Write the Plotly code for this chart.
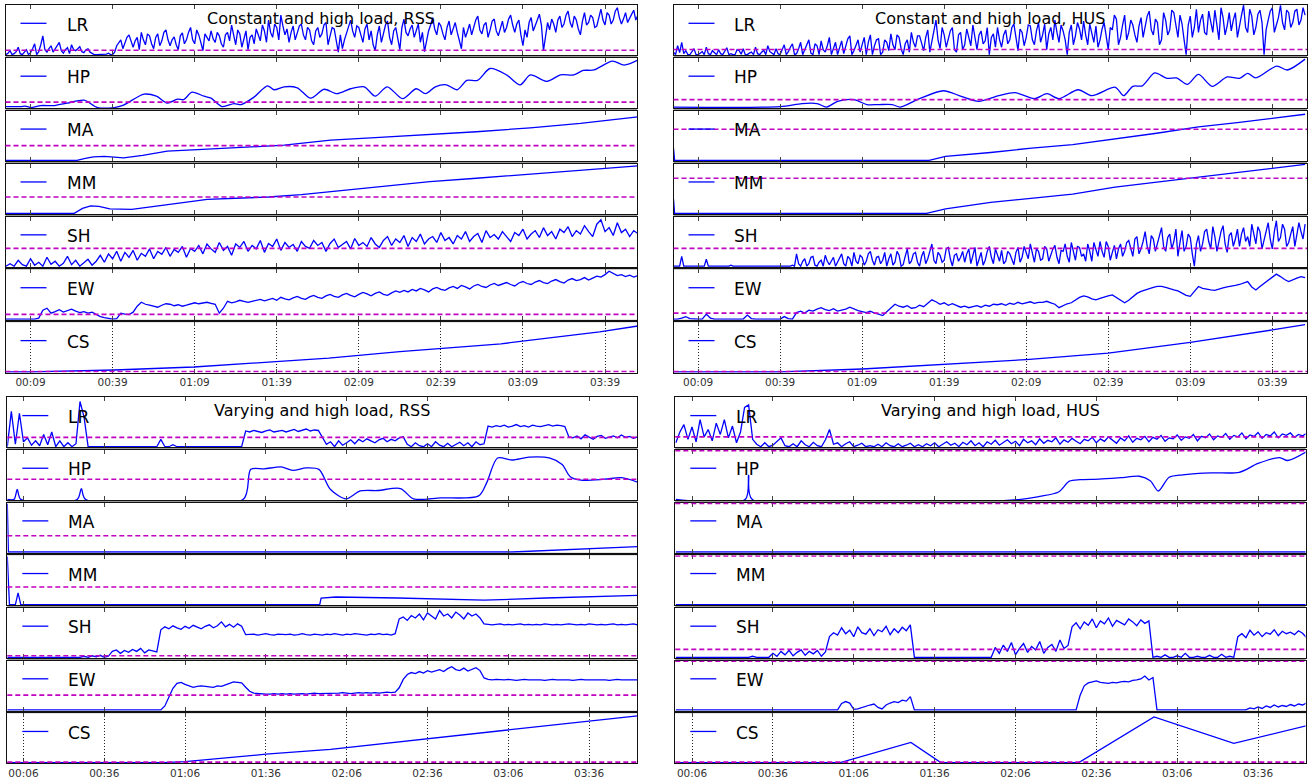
import numpy as np
import plotly.graph_objects as go

W, H = 1311, 781

ROWS = ["LR", "HP", "MA", "MM", "SH", "EW", "CS"]
TITLES = ["Constant and high load, RSS", "Constant and high load, HUS",
          "Varying and high load, RSS", "Varying and high load, HUS"]
TOP_TICKS = [9, 39, 69, 99, 129, 159, 189, 219]
TOP_TICK_LABELS = ["00:09", "00:39", "01:09", "01:39", "02:09", "02:39", "03:09", "03:39"]
BOT_TICKS = [6, 36, 66, 96, 126, 156, 186, 216]
BOT_TICK_LABELS = ["00:06", "00:36", "01:06", "01:36", "02:06", "02:36", "03:06", "03:36"]

# values are in % of each strip's height
STEP = 1.5        # minutes between samples of the dense series
STEP_FINE = 0.75  # minutes between samples of the very dense series

# ---------------- top-left: constant load, RSS ----------------
TL_LR = [0, 3, 8, 0, 2, 6, 15, 2, 0, 5, 10, 0, 4, 12, 22, 0, 6, 20, 38, 10,
         5, 12, 18, 5, 12, 20, 25, 8, 3, 10, 14, 2, 20, 10, 8, 12, 16, 6, 4, 10,
         12, 5, 2, 0, 0, 0, 1, 0, 0, 1, 3, 0, 0, 5, 18, 25, 30, 12, 22, 35,
         40, 25, 15, 28, 35, 10, 45, 30, 20, 42, 38, 22, 12, 35, 42, 18, 28, 45, 50, 30,
         18, 30, 36, 20, 10, 38, 44, 22, 30, 45, 55, 30, 22, 50, 40, 25, 8, 42, 35, 28,
         48, 32, 25, 45, 38, 22, 15, 40, 45, 28, 60, 38, 20, 50, 42, 15, 32, 48, 10, 35,
         40, 22, 52, 38, 28, 60, 48, 25, 70, 45, 35, 62, 55, 30, 80, 58, 40, 52, 25, 45,
         58, 30, 45, 58, 62, 40, 30, 55, 50, 28, 20, 48, 55, 35, 42, 60, 65, 20, 38, 55,
         52, 30, 5, 40, 12, 30, 45, 55, 70, 48, 35, 58, 55, 40, 25, 52, 62, 30, 48, 20,
         8, 40, 58, 25, 42, 60, 68, 35, 20, 48, 55, 30, 10, 55, 72, 45, 38, 52, 60, 35,
         50, 62, 25, 45, 6, 30, 48, 60, 75, 52, 40, 65, 58, 42, 30, 55, 68, 40, 52, 65,
         45, 30, 12, 55, 35, 48, 62, 40, 55, 70, 78, 50, 42, 60, 65, 35, 50, 68, 72, 48,
         38, 55, 68, 45, 55, 72, 80, 60, 45, 62, 70, 40, 18, 50, 35, 65, 75, 48, 58, 70,
         82, 60, 8, 42, 65, 50, 72, 62, 45, 70, 78, 55, 62, 80, 88, 65, 55, 78, 70, 52,
         40, 68, 85, 60, 65, 80, 75, 55, 58, 75, 92, 70, 60, 85, 80, 62, 70, 88, 95, 75,
         62, 72, 85, 65, 75, 82, 90, 70, 80]
TL_HP_T = [0, 5.5, 7, 9, 12.8, 17.7, 22.5, 28.6, 33.5, 39.6,
           43, 50.5, 55, 59, 62.7, 65, 68, 72.4, 75, 79,
           83.4, 86, 90.7, 95.6, 98, 101.7, 106.5, 111.4, 116.3, 121,
           126, 131, 135, 139.4, 145, 150, 153.4, 157, 161, 165,
           168.5, 172.4, 177, 183, 188, 191.7, 197.8, 202.7, 207.6, 211,
           215, 221.7, 226, 231]
TL_HP = [2, 2, 3, 0, 4, 4, 9, 15, 0, 0,
         5, 27, 23, 9, 17, 16, 31, 23, 19, 2,
         8, 6, 21, 44, 36, 42, 40, 19, 37, 28,
         38, 42, 23, 42, 18, 38, 28, 42, 46, 36,
         55, 55, 79, 66, 46, 66, 53, 66, 66, 75,
         76, 94, 86, 96]
TL_MA_T = [0, 26, 29, 32, 36, 39, 43, 50, 59, 70, 83.4, 92, 101.7, 110, 118.7, 135, 155, 172, 191.7, 210, 231]
TL_MA = [0, 0, 4, 7, 8, 7, 5, 10, 19, 22, 25, 28, 31, 36, 41, 46, 52, 58, 66, 75, 88]
TL_MM_T = [0, 25, 28, 31, 34, 38, 46, 55, 64, 73.6, 85, 96, 108, 118.7, 135, 155, 172, 191.7, 210, 231]
TL_MM = [0, 0, 10, 15, 14, 9, 8, 14, 21, 28, 30, 33, 38, 44, 54, 64, 71, 79, 87, 96]
TL_SH = [0, 5, 0, 12, 3, 0, 15, 2, 8, 0,
         18, 4, 10, 0, 6, 20, 3, 12, 0, 8,
         14, 2, 10, 22, 8, 25, 15, 30, 10, 28,
         18, 32, 12, 26, 20, 35, 15, 30, 24, 38,
         20, 34, 28, 40, 18, 36, 30, 42, 25, 45,
         35, 28, 48, 32, 40, 22, 45, 38, 50, 30,
         42, 35, 52, 28, 46, 40, 55, 32, 48, 38,
         44, 30, 50, 40, 36, 52, 42, 48, 30, 46,
         55, 38, 45, 50, 35, 56, 42, 48, 40, 58,
         45, 38, 52, 60, 42, 55, 48, 62, 40, 58,
         50, 65, 45, 55, 60, 48, 68, 52, 58, 45,
         62, 55, 70, 50, 60, 66, 48, 72, 58, 64,
         55, 70, 60, 50, 68, 62, 75, 55, 65, 72,
         58, 78, 62, 70, 55, 75, 68, 80, 60, 72,
         65, 82, 70, 60, 85, 94, 70, 78, 62, 88,
         68, 75, 60, 72, 66]
TL_EW = [0, 0, 0, 0, 0, 0, 0, 0, 2, 18,
         22, 12, 15, 19, 14, 17, 20, 16, 13, 15,
         12, 14, 9, 5, 3, 2, 0, 1, 12, 10,
         9, 14, 26, 34, 30, 28, 26, 24, 28, 31,
         30, 27, 29, 26, 28, 30, 33, 31, 33, 34,
         32, 30, 12, 22, 36, 33, 35, 38, 36, 34,
         36, 38, 40, 37, 40, 42, 38, 44, 41, 39,
         43, 46, 42, 40, 45, 48, 44, 42, 47, 50,
         46, 44, 49, 52, 48, 45, 50, 54, 51, 47,
         52, 55, 50, 48, 53, 57, 54, 58, 55, 60,
         57, 62, 59, 55, 61, 64, 60, 58, 63, 66,
         62, 68, 65, 61, 67, 70, 66, 64, 69, 72,
         68, 71, 74, 70, 67, 73, 76, 72, 70, 75,
         78, 74, 72, 77, 80, 76, 73, 79, 82, 78,
         80, 84, 79, 83, 87, 85, 90, 97, 92, 88,
         90, 86, 89, 85, 88]
TL_CS_T = [0, 9, 39.6, 68.7, 98.7, 118, 144, 181, 217, 231]
TL_CS = [0, 0, 4, 10, 21, 28, 41, 57, 81, 93]

# ---------------- top-right: constant load, HUS ----------------
TR_LR = [5, 0, 18, 4, 25, 2, 8, 0, 0, 6, 12, 0, 0, 3, 6, 0, 15, 2, 0, 8,
         3, 0, 10, 2, 0, 6, 14, 0, 2, 0, 0, 10, 8, 1, 12, 0, 0, 3, 5, 0,
         15, 2, 0, 5, 9, 0, 18, 6, 3, 0, 12, 2, 0, 10, 20, 0, 6, 15, 22, 0,
         2, 12, 25, 0, 10, 20, 30, 3, 0, 22, 18, 0, 28, 10, 5, 18, 35, 0, 12, 25,
         0, 15, 28, 2, 15, 32, 38, 0, 8, 20, 30, 5, 20, 35, 0, 25, 40, 0, 18, 30,
         32, 0, 5, 30, 25, 8, 42, 20, 10, 40, 35, 12, 0, 22, 30, 5, 45, 25, 15, 38,
         38, 20, 8, 35, 50, 5, 25, 45, 70, 30, 12, 55, 40, 15, 30, 48, 55, 10, 5, 40,
         45, 10, 20, 52, 35, 18, 60, 30, 10, 40, 48, 22, 28, 55, 0, 35, 42, 15, 55, 30,
         15, 40, 50, 22, 30, 55, 62, 35, 8, 52, 45, 18, 35, 60, 58, 30, 20, 48, 65, 25,
         40, 62, 10, 42, 55, 30, 70, 45, 25, 60, 48, 30, 0, 45, 60, 20, 38, 65, 52, 30,
         68, 40, 20, 62, 45, 25, 58, 15, 30, 52, 65, 38, 10, 55, 50, 80, 72, 20, 35, 60,
         80, 30, 45, 70, 60, 40, 25, 58, 75, 35, 55, 78, 88, 50, 40, 72, 65, 20, 30, 85,
         70, 40, 50, 90, 85, 55, 35, 80, 62, 30, 0, 60, 78, 35, 55, 92, 45, 70, 82, 45,
         40, 88, 68, 45, 90, 60, 30, 95, 75, 40, 58, 85, 48, 70, 85, 35, 62, 80, 100, 55,
         45, 92, 78, 40, 55, 82, 90, 65, 0, 50, 70, 88, 95, 45, 60, 75, 100, 65, 50, 90,
         85, 55, 65, 88, 92, 60, 70, 95, 80]
TR_HP_T = [0, 39, 47, 52.5, 56, 60, 66, 70.7, 75, 80,
           83, 90, 98.7, 105.5, 111.6, 119, 125, 132, 136.6, 141,
           148, 153, 161.6, 164.6, 168, 171.5, 176, 180.5, 184, 188,
           192, 197, 202.5, 207, 210, 213, 220.6, 224.5, 231]
TR_HP = [1, 2, 8, 8, 1, 12.5, 16, 6, 6, 6,
         1, 18, 34, 22, 12.5, 24, 30, 18, 28, 18,
         36, 24, 41, 24, 43, 44, 70, 59, 60, 47,
         67, 43, 62, 59, 69, 60, 84, 76, 98]
TR_MA_T = [0, 0.4, 93.5, 99.5, 116, 131, 146, 161.5, 176.7, 192, 207, 231]
TR_MA = [25, 0, 0, 8, 16, 25, 32, 43.5, 55, 68, 77, 93.5]
TR_MM_T = [0, 0.4, 92.6, 99.5, 116, 131, 146, 161.5, 176.7, 192, 207, 231]
TR_MM = [29, 0, 0, 9, 22, 31, 39, 53, 63, 74, 84, 99]
TR_SH = [0, 0, 0, 0, 20, 0, 0, 0, 0, 0, 0, 0, 0, 0, 0, 0, 14, 0, 0, 0,
         0, 0, 0, 0, 0, 0, 0, 0, 2, 0, 0, 0, 0, 0, 0, 0, 0, 0, 0, 0,
         0, 0, 0, 0, 0, 0, 0, 0, 0, 0, 0, 0, 0, 0, 0, 0, 0, 0, 2, 0,
         25, 5, 0, 10, 15, 0, 5, 18, 20, 2, 0, 8, 12, 0, 22, 10, 3, 12, 18, 0,
         8, 15, 25, 5, 0, 20, 15, 0, 28, 10, 5, 22, 18, 2, 10, 25, 30, 12, 2, 18,
         20, 5, 12, 28, 0, 15, 25, 2, 8, 30, 22, 0, 3, 20, 35, 5, 10, 25, 28, 8,
         0, 20, 30, 5, 15, 30, 45, 12, 5, 28, 22, 8, 12, 35, 38, 15, 0, 22, 25, 10,
         18, 30, 8, 25, 35, 5, 20, 38, 0, 15, 28, 2, 12, 30, 40, 18, 5, 35, 22, 10,
         32, 5, 10, 30, 25, 12, 3, 28, 38, 8, 18, 40, 28, 15, 45, 25, 8, 35, 30, 12,
         15, 40, 35, 10, 22, 35, 42, 18, 5, 32, 30, 45, 20, 8, 48, 30, 12, 40, 38, 20,
         25, 10, 45, 30, 10, 48, 35, 20, 50, 30, 18, 50, 40, 12, 28, 42, 15, 35, 45, 20,
         30, 48, 52, 35, 20, 55, 60, 25, 35, 50, 70, 40, 25, 62, 55, 30, 45, 65, 78, 40,
         30, 58, 65, 35, 50, 75, 20, 48, 72, 30, 40, 65, 58, 25, 0, 45, 62, 30, 45, 70,
         75, 50, 35, 80, 60, 30, 50, 70, 82, 45, 28, 62, 68, 40, 55, 75, 40, 65, 78, 50,
         60, 40, 85, 62, 45, 80, 70, 35, 52, 75, 88, 55, 35, 70, 92, 50, 58, 85, 75, 40,
         48, 65, 80, 40, 62, 88, 70, 55, 85]
TR_EW = [0, 0, 2, 5, 1, 0, 0, 0, 10, 2,
         0, 0, 0, 0, 0, 0, 0, 0, 8, 1,
         0, 0, 0, 0, 0, 0, 0, 5, 1, 0,
         13, 16, 12, 18, 16, 20, 23, 19, 17, 21,
         16, 18, 20, 24, 20, 17, 15, 13, 16, 12,
         10, 7, 15, 22, 30, 26, 24, 27, 22, 23,
         28, 25, 33, 39, 35, 30, 33, 28, 31, 27,
         24, 26, 23, 25, 27, 24, 28, 26, 30, 29,
         31, 28, 32, 30, 34, 31, 33, 35, 32, 34,
         34, 36, 33, 30, 23, 27, 31, 33, 38, 44,
         47, 45, 41, 39, 42, 45, 47, 49, 44, 38,
         33, 38, 45, 52, 56, 59, 62, 64, 66, 66,
         64, 61, 59, 57, 52, 48, 46, 55, 66, 62,
         60, 59, 58, 61, 63, 65, 66, 68, 70, 73,
         76, 65, 59, 66, 72, 78, 85, 91, 86, 80,
         76, 80, 83, 86, 84]
TR_CS_T = [0, 39, 69, 99, 129, 159, 169, 189, 219, 231]
TR_CS = [0, 0, 6, 15, 25, 38, 45, 60, 85, 96]

# ---------------- bottom-left: varying load, RSS ----------------
BL_LR = [0, 72, 5, 68, 10, 18, 3, 12, 2, 25,
         4, 30, 0, 12, 0, 8, 0, 6, 92, 60,
         0, 0, 0, 0, 0, 0, 0, 0, 0, 0,
         0, 0, 0, 0, 0, 0, 0, 0, 15, 0,
         0, 4, 0, 0, 0, 0, 0, 0, 0, 0,
         0, 0, 0, 0, 0, 0, 0, 0, 0, 32,
         30, 33, 31, 29, 32, 34, 30, 31, 33, 30,
         32, 35, 31, 33, 36, 32, 34, 33, 20, 5,
         10, 0, 12, 3, 8, 14, 6, 15, 10, 16,
         12, 8, 14, 17, 10, 15, 12, 18, 20, 5,
         0, 8, 2, 0, 6, 0, 10, 3, 0, 7,
         0, 5, 9, 2, 8, 0, 10, 4, 6, 42,
         40, 43, 41, 44, 40, 42, 45, 41, 43, 40,
         44, 42, 41, 43, 45, 42, 44, 43, 41, 20,
         18, 22, 16, 24, 19, 15, 21, 23, 17, 20,
         22, 18, 24, 19, 21, 17, 20]
BL_HP_T = [0, 2.5, 3.7, 5, 26, 27.5, 29, 87.6, 90.4, 95.4,
           101.6, 106, 111, 115.7, 120, 125.8, 131, 137.5, 146, 150.8,
           161, 175, 178, 182, 187.4, 193.7, 201.5, 206, 209, 213,
           221.8, 228, 234]
BL_HP = [0, 0, 20, 0, 0, 22, 0, 0, 61, 62,
         66, 59, 64, 61, 20, 1, 17, 18, 22, 1,
         3, 7, 34, 84, 80, 86, 84, 71, 46, 39,
         41, 44, 35]
BL_MA_T = [0, 0.4, 187.4, 210, 234]
BL_MA = [98, 0, 0, 6, 11]
BL_MM_T = [0, 0.8, 3, 4, 5, 116, 116.5, 122, 145, 177, 200, 234]
BL_MM = [98, 0, 0, 24, 0, 0, 13.5, 15.5, 13.5, 9, 13.5, 19]
BL_SH = [0, 0, 0, 0, 0, 0, 0, 0, 0, 0,
         0, 0, 0, 0, 0, 0, 0, 0, 0, 2,
         0, 3, 1, 4, 0, 2, 12, 15, 8, 14,
         10, 16, 12, 18, 9, 15, 13, 11, 56, 62,
         58, 64, 60, 57, 63, 59, 65, 61, 58, 63,
         66, 60, 64, 72, 62, 67, 61, 68, 63, 46,
         46, 47, 45, 46, 48, 46, 45, 47, 46, 46,
         47, 45, 46, 48, 46, 45, 47, 46, 45, 47,
         46, 48, 46, 45, 47, 46, 48, 47, 46, 45,
         47, 46, 48, 46, 47, 45, 48, 78, 82, 75,
         85, 80, 88, 76, 90, 83, 78, 95, 84, 88,
         80, 92, 86, 78, 90, 84, 88, 80, 68, 67,
         66, 67, 68, 66, 67, 66, 67, 68, 66, 67,
         66, 67, 66, 68, 67, 66, 67, 66, 67, 68,
         67, 66, 67, 66, 68, 67, 66, 67, 66, 67,
         68, 66, 67, 66, 67, 68, 66]
BL_EW = [0, 0, 0, 0, 0, 0, 0, 0, 0, 0,
         0, 0, 0, 0, 0, 0, 0, 0, 0, 0,
         0, 0, 0, 0, 0, 0, 0, 0, 0, 0,
         0, 0, 0, 0, 0, 0, 0, 0, 0, 8,
         28, 44, 54, 56, 52, 49, 46, 48, 49, 48,
         47, 46, 49, 48, 51, 54, 57, 56, 55, 46,
         38, 34, 33, 33, 32, 32, 33, 32, 33, 32,
         33, 32, 33, 33, 32, 33, 34, 33, 33, 34,
         34, 33, 34, 35, 34, 33, 34, 35, 34, 35,
         34, 35, 34, 35, 36, 35, 36, 45, 62, 72,
         76, 74, 78, 75, 80, 77, 79, 82, 78, 84,
         88, 82, 80, 85, 79, 83, 86, 80, 65, 62,
         61, 62, 61, 61, 62, 61, 60, 61, 62, 61,
         61, 62, 61, 60, 61, 62, 61, 61, 62, 61,
         60, 61, 62, 61, 61, 62, 61, 62, 61, 60,
         61, 62, 61, 61, 62, 61, 61]
BL_CS_T = [0, 58, 66, 96, 120, 150, 182, 210, 234]
BL_CS = [0, 0, 2, 17, 27, 45, 65, 82, 95]

# ---------------- bottom-right: varying load, HUS ----------------
BR_LR = [8, 30, 45, 15, 40, 10, 55, 20, 35, 12,
         48, 25, 55, 18, 42, 8, 30, 80, 85, 15,
         5, 0, 8, 0, 3, 10, 18, 2, 0, 6,
         0, 12, 4, 0, 9, 2, 0, 14, 35, 5,
         8, 0, 6, 10, 0, 3, 7, 0, 2, 0,
         5, 0, 8, 2, 0, 6, 0, 3, 7, 0,
         4, 0, 6, 2, 8, 0, 5, 10, 3, 7,
         0, 9, 4, 12, 2, 8, 0, 10, 5, 13,
         3, 9, 14, 6, 11, 2, 15, 8, 12, 4,
         16, 7, 13, 10, 18, 5, 14, 9, 17, 11,
         6, 15, 12, 19, 8, 16, 11, 20, 13, 7,
         18, 12, 22, 9, 17, 14, 21, 10, 19, 15,
         23, 11, 18, 16, 24, 13, 20, 17, 25, 12,
         21, 18, 26, 14, 22, 19, 27, 15, 23, 20,
         28, 16, 24, 21, 29, 17, 25, 22, 30, 18,
         26, 23, 28, 19, 25, 22, 27]
BR_HP_T = [0, 25.8, 27, 28.3, 128, 135, 142, 146, 150, 157,
           165, 172, 176, 179, 183, 188, 194, 200, 209, 216,
           224, 227, 234]
BR_HP = [0, 0, 49, 0, 0, 6, 15, 37, 40, 41,
         44, 47, 38, 17, 45, 50, 53, 54, 55, 73,
         85, 79, 97]
BR_MA_T = [0, 234]
BR_MA = [0, 0]
BR_MM_T = [0, 234]
BR_MM = [0, 0]
BR_SH = [0, 0, 0, 0, 0, 0, 0, 0, 0, 0,
         0, 0, 0, 0, 0, 0, 0, 0, 0, 2,
         0, 0, 0, 0, 8, 2, 12, 5, 14, 3,
         10, 15, 4, 12, 7, 14, 2, 11, 42, 50,
         45, 60, 48, 55, 42, 62, 50, 47, 58, 44,
         56, 52, 63, 46, 58, 50, 61, 54, 66, 0,
         0, 0, 0, 0, 0, 0, 0, 0, 0, 0,
         0, 0, 0, 0, 0, 0, 0, 0, 0, 20,
         8, 25, 12, 30, 5, 18, 28, 10, 22, 15,
         32, 8, 20, 26, 12, 35, 18, 24, 62, 70,
         58, 72, 65, 78, 60, 74, 68, 80, 63, 75,
         70, 66, 78, 72, 64, 76, 69, 74, 0, 2,
         0, 5, 0, 0, 3, 0, 8, 0, 0, 2,
         0, 0, 4, 0, 0, 6, 0, 2, 0, 42,
         48, 40, 55, 45, 52, 42, 50, 47, 56, 44,
         53, 48, 51, 46, 54, 49, 40]
BR_EW = [0, 0, 0, 0, 0, 0, 0, 0, 0, 0,
         0, 0, 0, 0, 0, 0, 0, 0, 0, 0,
         0, 0, 0, 0, 0, 0, 0, 0, 0, 0,
         0, 0, 0, 0, 0, 0, 0, 0, 0, 0,
         0, 13, 17, 14, 1, 2, 5, 8, 10, 12,
         5, 2, 10, 14, 17, 15, 20, 18, 27, 0,
         0, 0, 0, 0, 0, 0, 0, 0, 0, 0,
         0, 0, 0, 0, 0, 0, 0, 0, 0, 0,
         0, 0, 0, 0, 0, 0, 0, 0, 0, 0,
         0, 0, 0, 0, 0, 0, 0, 0, 0, 0,
         30, 49, 55, 57, 59, 56, 55, 54, 56, 55,
         57, 58, 57, 60, 61, 63, 69, 61, 66, 0,
         0, 0, 0, 0, 0, 0, 0, 0, 0, 0,
         0, 0, 0, 0, 0, 0, 0, 0, 0, 0,
         0, 0, 4, 2, 6, 3, 8, 5, 10, 6,
         9, 7, 11, 8, 12, 10, 14]
BR_CS_T = [0, 61, 87.2, 98.3, 149.5, 177.4, 207, 234]
BR_CS = [0, 0, 41, 0, 0, 93, 39, 75]

# threshold levels (dashed lines), per panel, per strip
THRESH = [
    [9, 11, 30, 33, 36, 9.5, 0.8],
    [10.5, 16, 63, 71, 36, 12, 0.8],
    [19, 41, 33, 36, 3, 30, 0.8],
    [20, 99, 99, 99, 16, 99, 0.8],
]


def grid(v, step=STEP):
    return list(np.arange(len(v)) * step)


SERIES = [
    {"LR": (grid(TL_LR, STEP_FINE), TL_LR), "HP": (TL_HP_T, TL_HP), "MA": (TL_MA_T, TL_MA),
     "MM": (TL_MM_T, TL_MM), "SH": (grid(TL_SH), TL_SH), "EW": (grid(TL_EW), TL_EW),
     "CS": (TL_CS_T, TL_CS)},
    {"LR": (grid(TR_LR, STEP_FINE), TR_LR), "HP": (TR_HP_T, TR_HP), "MA": (TR_MA_T, TR_MA),
     "MM": (TR_MM_T, TR_MM), "SH": (grid(TR_SH, STEP_FINE), TR_SH), "EW": (grid(TR_EW), TR_EW),
     "CS": (TR_CS_T, TR_CS)},
    {"LR": (grid(BL_LR), BL_LR), "HP": (BL_HP_T, BL_HP), "MA": (BL_MA_T, BL_MA),
     "MM": (BL_MM_T, BL_MM), "SH": (grid(BL_SH), BL_SH), "EW": (grid(BL_EW), BL_EW),
     "CS": (BL_CS_T, BL_CS)},
    {"LR": (grid(BR_LR), BR_LR), "HP": (BR_HP_T, BR_HP), "MA": (BR_MA_T, BR_MA),
     "MM": (BR_MM_T, BR_MM), "SH": (grid(BR_SH), BR_SH), "EW": (grid(BR_EW), BR_EW),
     "CS": (BR_CS_T, BR_CS)},
]

# ---------------- layout geometry (pixels) ----------------
PANELS = [
    dict(left=5.5, right=637.3, top=5.0, bottom=372.7, xrange=[-0.15, 230.8]),
    dict(left=673.5, right=1307.0, top=5.0, bottom=372.7, xrange=[0.0, 231.7]),
    dict(left=7.3, right=637.3, top=397.3, bottom=763.3, xrange=[0.0, 233.9]),
    dict(left=675.3, right=1305.5, top=397.3, bottom=763.3, xrange=[-0.2, 233.6]),
]
TICKS = [(TOP_TICKS, TOP_TICK_LABELS), (TOP_TICKS, TOP_TICK_LABELS),
         (BOT_TICKS, BOT_TICK_LABELS), (BOT_TICKS, BOT_TICK_LABELS)]
GAP = 2.5
BLUE = "#0000ff"
MAGENTA = "#c000c0"
FONT = "DejaVu Sans"

fig = go.Figure()
layout = {}
shapes = []
annotations = []
k = 0
for p, pan in enumerate(PANELS):
    h = (pan["bottom"] - pan["top"] - 6 * GAP) / 7
    wpx = pan["right"] - pan["left"]
    tv, tt = TICKS[p]
    for r, name in enumerate(ROWS):
        k += 1
        sfx = "" if k == 1 else str(k)
        top = pan["top"] + r * (h + GAP)
        bot = top + h
        last = (r == len(ROWS) - 1)
        layout["xaxis" + sfx] = dict(
            domain=[pan["left"] / W, pan["right"] / W], anchor="y" + sfx,
            range=pan["xrange"], showline=True, mirror="ticks", linecolor="#111",
            linewidth=1, ticks="inside", ticklen=4, tickwidth=1, tickcolor="#444",
            tickmode="array", tickvals=tv, ticktext=tt, showticklabels=last,
            tickfont=dict(family=FONT, size=10.5, color="#333"),
            showgrid=last, gridcolor="#222", gridwidth=1, griddash="1px,2px",
            zeroline=False, fixedrange=True)
        layout["yaxis" + sfx] = dict(
            domain=[1 - bot / H, 1 - top / H], anchor="x" + sfx, range=[-1.5, 100.5],
            showline=True, mirror=True, linecolor="#111", linewidth=1,
            ticks="", showticklabels=False, showgrid=False, zeroline=False,
            fixedrange=True)
        t, v = SERIES[p][name]
        fig.add_trace(go.Scatter(
            x=t, y=v, xaxis="x" + sfx, yaxis="y" + sfx, mode="lines",
            line=dict(color=BLUE, width=1.3,
                      shape="spline" if name == "HP" else "linear", smoothing=0.8),
            hoverinfo="skip", showlegend=False))
        # threshold
        shapes.append(dict(type="line", xref=f"x{sfx} domain", yref="y" + sfx,
                           x0=0, x1=1, y0=THRESH[p][r], y1=THRESH[p][r],
                           line=dict(color=MAGENTA, width=1.6, dash="5px,3px"),
                           layer="above"))
        # legend sample line
        ly = 1 - 18.3 / h
        shapes.append(dict(type="line", xref=f"x{sfx} domain", yref=f"y{sfx} domain",
                           x0=15 / wpx, x1=41 / wpx, y0=ly, y1=ly,
                           line=dict(color=BLUE, width=1.3), layer="above"))
        annotations.append(dict(text=name, xref=f"x{sfx} domain", yref=f"y{sfx} domain",
                                x=59 / wpx, y=1 - 19.5 / h, xanchor="left",
                                yanchor="middle", showarrow=False,
                                font=dict(family=FONT, size=17, color="#000")))
        if r == 0:
            annotations.append(dict(text=TITLES[p], xref=f"x{sfx} domain",
                                    yref=f"y{sfx} domain", x=0.5, y=1 - 13.3 / h,
                                    xanchor="center", yanchor="middle", showarrow=False,
                                    font=dict(family=FONT, size=16, color="#000")))
        if not last:
            shapes.append(dict(type="rect", xref="paper", yref="paper",
                               x0=pan["left"] / W, x1=pan["right"] / W,
                               y0=1 - (bot + GAP) / H, y1=1 - bot / H,
                               fillcolor="#999", line=dict(width=0), layer="below"))

fig.update_layout(**layout)
fig.update_layout(width=W, height=H, autosize=False,
                  margin=dict(l=0, r=0, t=0, b=0, pad=0),
                  paper_bgcolor="white", plot_bgcolor="white",
                  showlegend=False, hovermode=False,
                  shapes=shapes, annotations=annotations,
                  font=dict(family=FONT))

fig.write_html("out.html", include_plotlyjs=True,
               config={"displayModeBar": False, "staticPlot": True})
